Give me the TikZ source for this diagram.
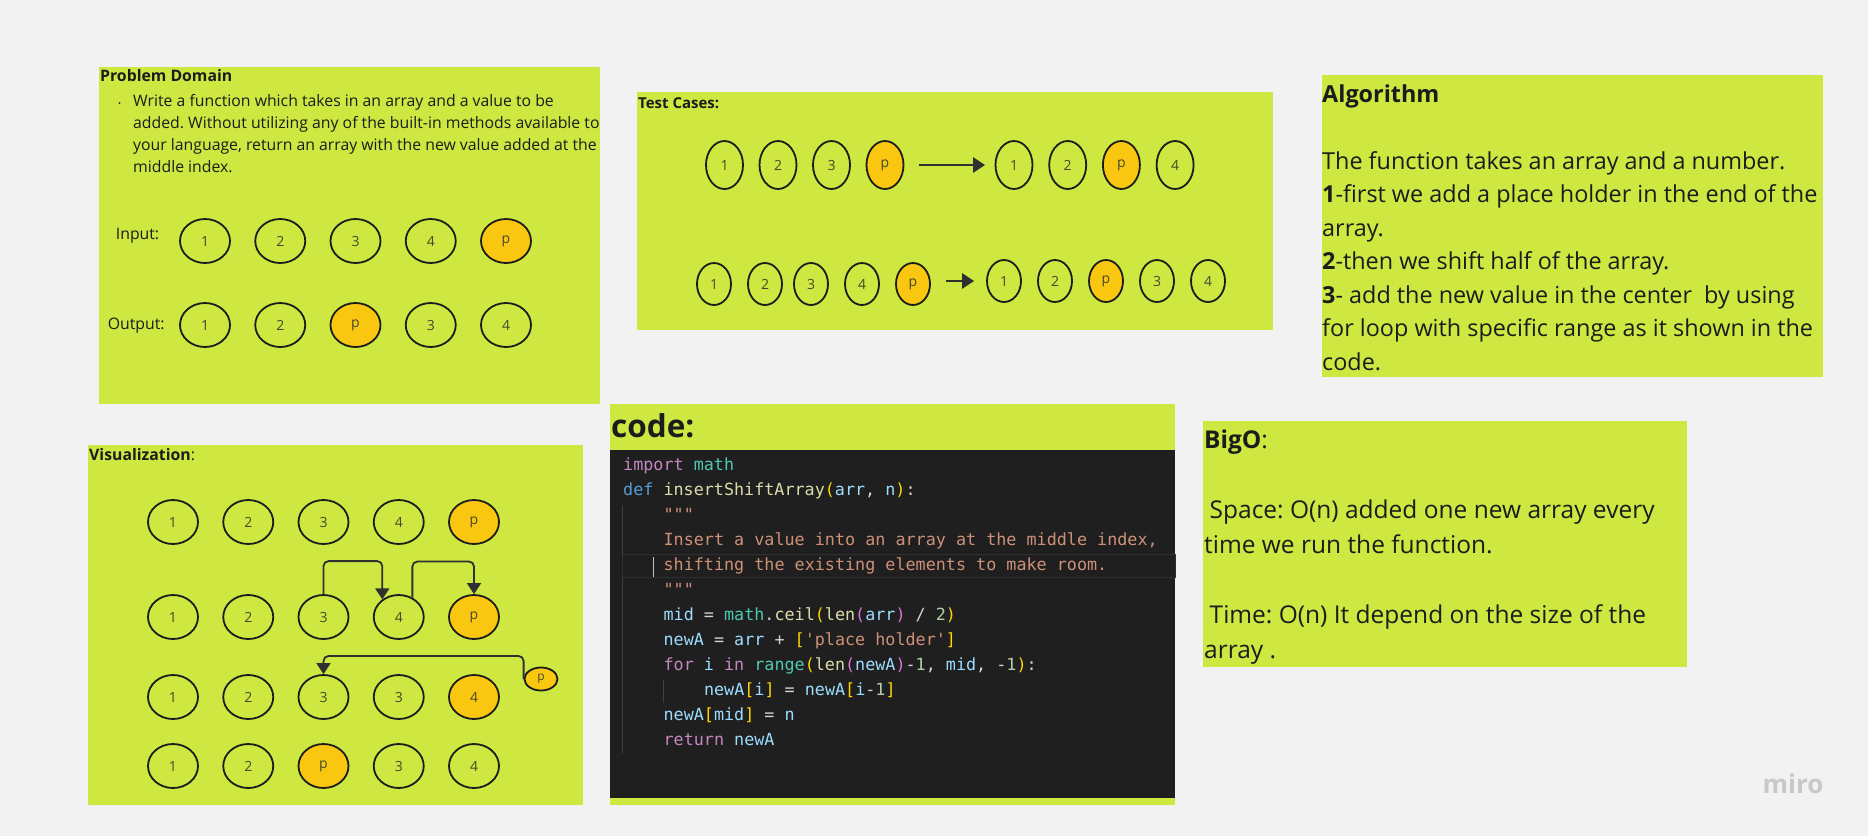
\documentclass[tikz,border=0pt]{standalone}
\usepackage{fontspec}
\setmainfont{Open Sans}
\setmonofont{DejaVu Sans Mono}
\usetikzlibrary{shapes.geometric,arrows.meta,positioning}
\frenchspacing

\definecolor{board}{HTML}{F2F2F2}
\definecolor{sticky}{HTML}{CEE741}
\definecolor{holder}{HTML}{FAC710}
\definecolor{ink}{HTML}{1C1C1C}
\definecolor{digit}{HTML}{45482E}
\definecolor{arrowc}{HTML}{303030}
\definecolor{editor}{HTML}{1F1F1F}
\definecolor{guidec}{HTML}{404040}
\definecolor{linehl}{HTML}{303030}
\definecolor{brandc}{HTML}{C8C8C8}
\definecolor{ckw}{HTML}{C586C0}
\definecolor{cdef}{HTML}{569CD6}
\definecolor{cfn}{HTML}{DCDCAA}
\definecolor{ccls}{HTML}{4EC9B0}
\definecolor{cvar}{HTML}{9CDCFE}
\definecolor{cstr}{HTML}{CE9178}
\definecolor{cnum}{HTML}{B5CEA8}
\definecolor{cop}{HTML}{D4D4D4}
\definecolor{cbra}{HTML}{FFD700}
\definecolor{cbrb}{HTML}{DA70D6}

% syntax colours of the editor shot
\newcommand{\Kw}[1]{\textcolor{ckw}{#1}}
\newcommand{\Df}[1]{\textcolor{cdef}{#1}}
\newcommand{\Fn}[1]{\textcolor{cfn}{#1}}
\newcommand{\Cl}[1]{\textcolor{ccls}{#1}}
\newcommand{\Vr}[1]{\textcolor{cvar}{#1}}
\newcommand{\St}[1]{\textcolor{cstr}{#1}}
\newcommand{\Nm}[1]{\textcolor{cnum}{#1}}
\newcommand{\Ba}[1]{\textcolor{cbra}{#1}}
\newcommand{\Bb}[1]{\textcolor{cbrb}{#1}}
\newcommand{\Ind}{\hspace*{40.4pt}}

\begin{document}
\begin{tikzpicture}[x=1pt,y=-1pt,
  cell/.style={ellipse,draw=ink,line width=1.8pt,fill=sticky,inner sep=0pt,
    minimum width=50pt,minimum height=44pt,text=digit,font=\fontsize{14}{14}\selectfont},
  hold/.style={cell,fill=holder},
  tcell/.style={cell,minimum width=37pt,minimum height=48pt},
  thold/.style={tcell,fill=holder},
  scell/.style={cell,minimum width=34pt,minimum height=42pt},
  shold/.style={scell,fill=holder},
  heading/.style={anchor=base west,inner sep=0pt,text=ink,font=\bfseries\fontsize{15.8}{15.8}\selectfont},
  label/.style={anchor=base west,inner sep=0pt,text=ink,font=\fontsize{15.8}{15.8}\selectfont},
  para/.style={anchor=north west,inner sep=0pt,align=left,text=ink,font=\fontsize{23.4}{33.5}\selectfont},
  flow/.style={draw=arrowc,line width=1.8pt,rounded corners=5pt,-{Triangle[width=14pt,length=11pt]}},
  push/.style={draw=arrowc,line width=2.6pt,-{Triangle[width=15pt,length=12pt]}}]

\fill[board] (0,0) rectangle (1868,836);
\useasboundingbox (0,0) rectangle (1868,836);

% sticky notes
\fill[sticky] (99,67) rectangle (600,404);
\fill[sticky] (637,92) rectangle (1273,330);
\fill[sticky] (1322,75) rectangle (1823,377);
\fill[sticky] (88,445) rectangle (583,805);
\fill[sticky] (610,404) rectangle (1175,805);
\fill[sticky] (1203,421) rectangle (1687,667);

% problem domain
\node[heading] (pdhead) at (100,81.6) {Problem Domain};
\node[anchor=north west,inner sep=0pt,align=left,text=ink,font=\fontsize{15.8}{22}\selectfont] (pdtext) at (133,94.2)
  {\llap{{\fontsize{8}{8}\selectfont\textbullet}\hspace{12pt}}Write a function which takes in an array and a value to be\\
   added. Without utilizing any of the built-in methods available to\\
   your language, return an array with the new value added at the\\
   middle index.};
\node[label] (inlabel) at (115.7,239.2) {Input:};
\node[label] (outlabel) at (107.7,329.2) {Output:};
\foreach \v/\s [count=\i] in {1/cell,2/cell,3/cell,4/cell,p/hold}
  \node[\s] (in\i) at ({205+75.25*(\i-1)},241) {\v};
\foreach \v/\s [count=\i] in {1/cell,2/cell,p/hold,3/cell,4/cell}
  \node[\s] (out\i) at ({205+75.25*(\i-1)},325) {\v};

% test cases
\node[heading,font=\bfseries\fontsize{15}{15}\selectfont] (tchead) at (638,108) {Test Cases:};
\foreach \v/\s [count=\i] in {1/tcell,2/tcell,3/tcell,p/thold}
  \node[\s] (ta\i) at ({724.5+53.5*(\i-1)},165) {\v};
\foreach \v/\s [count=\i] in {1/tcell,2/tcell,p/thold,4/tcell}
  \node[\s] (tb\i) at ({1014+53.7*(\i-1)},165) {\v};
\draw[push] ([xshift=14.5pt]ta4.east) -- ([xshift=-9.5pt]tb1.west);
\foreach \v/\s/\xx in {1/scell/714,2/scell/765,3/scell/811,4/scell/862,p/shold/913}
  \node[\s] (tc\v) at (\xx,284) {\v};
\foreach \v/\s [count=\i] in {1/scell,2/scell,p/shold,3/scell,4/scell}
  \node[\s] (td\i) at ({1004+51*(\i-1)},281) {\v};
\draw[push] ([xshift=15pt,yshift=3pt]tcp.east) -- ([xshift=-12pt]td1.west);

% algorithm
\node[para] (algo) at (1322,84.2)
  {\textbf{Algorithm}\\[33.5pt]
   The function takes an array and a number.\\
   \textbf{1}-first we add a place holder in the end of the\\
   array.\\
   \textbf{2}-then we shift half of the array.\\
   \textbf{3}- add the new value in the center\ \ by using\\
   for loop with specific range as it shown in the\\
   code.};

% visualization
\node[heading] (vishead) at (89,460.3) {Visualization\mdseries:};
\foreach \row/\yy/\list in {1/522/{1/cell,2/cell,3/cell,4/cell,p/hold},
                            2/617/{1/cell,2/cell,3/cell,4/cell,p/hold},
                            3/697/{1/cell,2/cell,3/cell,3/cell,4/hold},
                            4/766/{1/cell,2/cell,p/hold,3/cell,4/cell}}
  \foreach \v/\s [count=\i] in \list
    \node[\s] (v\row c\i) at ({173+75.25*(\i-1)},\yy) {\v};
\node[hold,minimum width=33pt,minimum height=23pt,font=\fontsize{12}{12}\selectfont] (pp) at (541,679) {p};
\draw[flow] (v2c3.north) -- ++(0,-33) -| (v2c4.133);
\draw[flow] (v2c4.55) -- ++(0,-36) -| (v2c5.north);
\draw[flow] (pp.west) -- ++(0,-23) -| (v3c3.north);

% code
\node[heading,font=\bfseries\fontsize{31.5}{31.5}\selectfont] (codehead) at (611,437) {code:};
\fill[editor] (610,450) rectangle (1175,798);
\draw[guidec,line width=1pt] (622.7,505) -- (622.7,753);
\draw[guidec,line width=1pt] (663,680) -- (663,703);
\draw[linehl,line width=1pt] (622.7,554) rectangle (1175,577);
\draw[white!75!black,line width=1.3pt] (653.3,557) -- (653.3,577);
\node[anchor=north west,inner sep=0pt,align=left,text=cop,font=\ttfamily\fontsize{16.75}{25}\selectfont] (src) at (623,458)
  {\Kw{import} \Cl{math}\\
   \Df{def} \Fn{insertShiftArray}\Ba{(}\Vr{arr}, \Vr{n}\Ba{)}:\\
   \Ind\St{"""}\\
   \Ind\St{Insert a value into an array at the middle index,}\\
   \Ind\St{shifting the existing elements to make room.}\\
   \Ind\St{"""}\\
   \Ind\Vr{mid} = \Cl{math}.\Fn{ceil}\Ba{(}\Fn{len}\Bb{(}\Vr{arr}\Bb{)} / \Nm{2}\Ba{)}\\
   \Ind\Vr{newA} = \Vr{arr} + \Ba{[}\St{\textquotesingle place holder\textquotesingle}\Ba{]}\\
   \Ind\Kw{for} \Vr{i} \Kw{in} \Cl{range}\Ba{(}\Fn{len}\Bb{(}\Vr{newA}\Bb{)}-\Nm{1}, \Vr{mid}, -\Nm{1}\Ba{)}:\\
   \Ind\Ind\Vr{newA}\Ba{[}\Vr{i}\Ba{]} = \Vr{newA}\Ba{[}\Vr{i}-\Nm{1}\Ba{]}\\
   \Ind\Vr{newA}\Ba{[}\Vr{mid}\Ba{]} = \Vr{n}\\
   \Ind\Kw{return} \Vr{newA}};

% big o
\node[para,font=\fontsize{24.5}{35}\selectfont] (bigo) at (1204,430)
  {\textbf{BigO}:\\[34.5pt]
   \hspace*{5.5pt}Space: O(n) added one new array every\\
   time we run the function.\\[35pt]
   \hspace*{5.5pt}Time: O(n) It depend on the size of the\\
   array .};

\node[text=brandc,font=\bfseries\fontsize{26}{26}\selectfont] (brand) at (1793,784) {miro};
\end{tikzpicture}
\end{document}
